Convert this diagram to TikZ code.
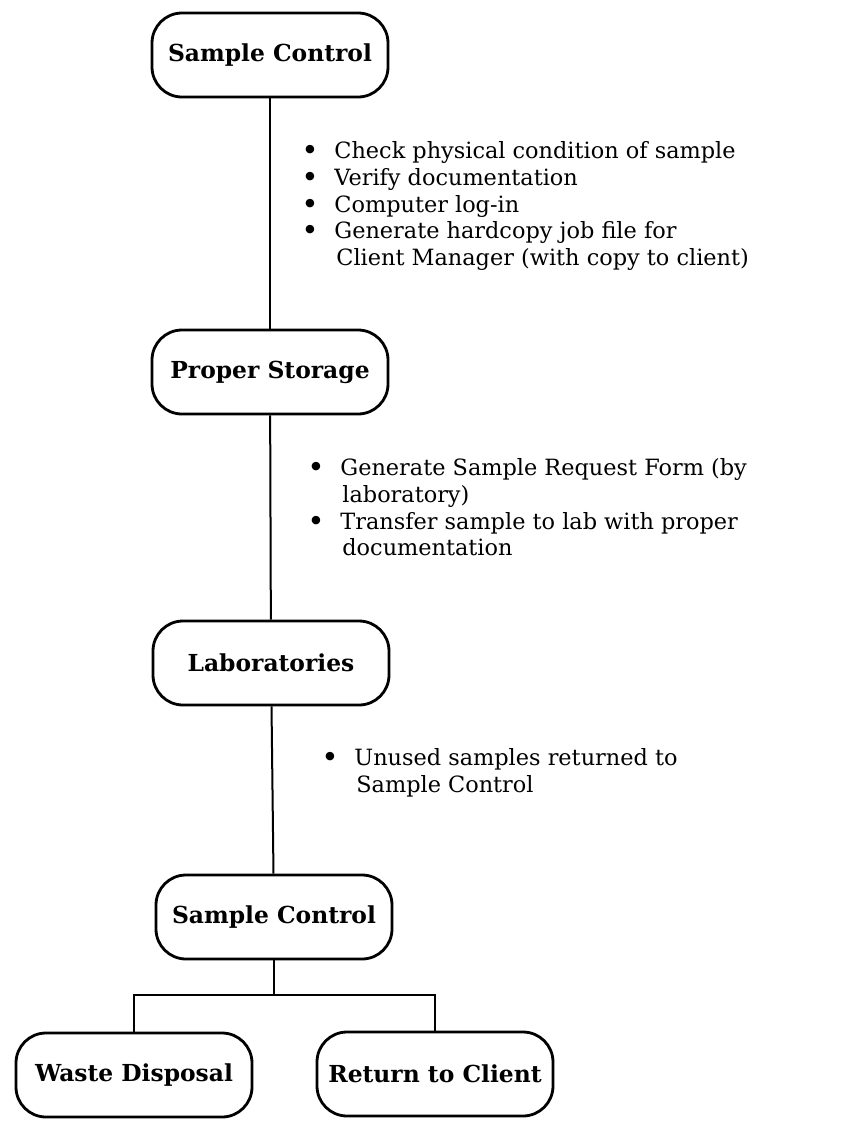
\documentclass[tikz,border=0pt]{standalone}
\usepackage{fontspec}
\setmainfont{DejaVu Serif}

\newcommand\bul{\makebox[16pt][l]{\bfseries\large\textbullet}}
\newcommand\ind{\hspace*{17pt}}

\begin{document}
\begin{tikzpicture}[x=0.5pt, y=-0.5pt,
    stage/.style ={rectangle, rounded corners=15pt, draw, line width=1.4pt,
                   inner sep=0pt, minimum width=118pt, minimum height=42pt,
                   font=\bfseries\fontsize{11.7}{13.4}\selectfont},
    notes/.style ={anchor=north west, align=left, inner sep=0pt,
                   font=\fontsize{11.2}{13.4}\selectfont},
    link/.style ={line width=1pt}]
   \useasboundingbox (0,0) rectangle (859,1121);

   \node[stage] (ctrl)    at (270,55)   {Sample Control};
   \node[stage] (storage) at (270,372)  {Proper Storage};
   \node[stage] (labs)    at (271,663)  {Laboratories};
   \node[stage] (ctrlb)   at (274,917)  {Sample Control};
   \node[stage] (waste)   at (134,1075) {Waste Disposal};
   \node[stage] (client)  at (435,1074) {Return to Client};

   \node[notes] (checks) at (302,141) {\bul Check physical condition of sample\\
      \bul Verify documentation\\
      \bul Computer log-in\\
      \bul Generate hardcopy job file for\\
      \ind Client Manager (with copy to client)};
   \node[notes] (request) at (308,458) {\bul Generate Sample Request Form (by\\
      \ind laboratory)\\
      \bul Transfer sample to lab with proper\\
      \ind documentation};
   \node[notes] (unused) at (322,748) {\bul Unused samples returned to\\
      \ind Sample Control};

   \coordinate (fork) at (274,995);

   \draw[link] (ctrl) to (storage);
   \draw[link] (storage) to (labs);
   \draw[link] (labs) to (ctrlb);
   \draw[link] (ctrlb) to (fork);
   \draw[link] (waste.north) |- (fork) -| (client.north);
\end{tikzpicture}
\end{document}
